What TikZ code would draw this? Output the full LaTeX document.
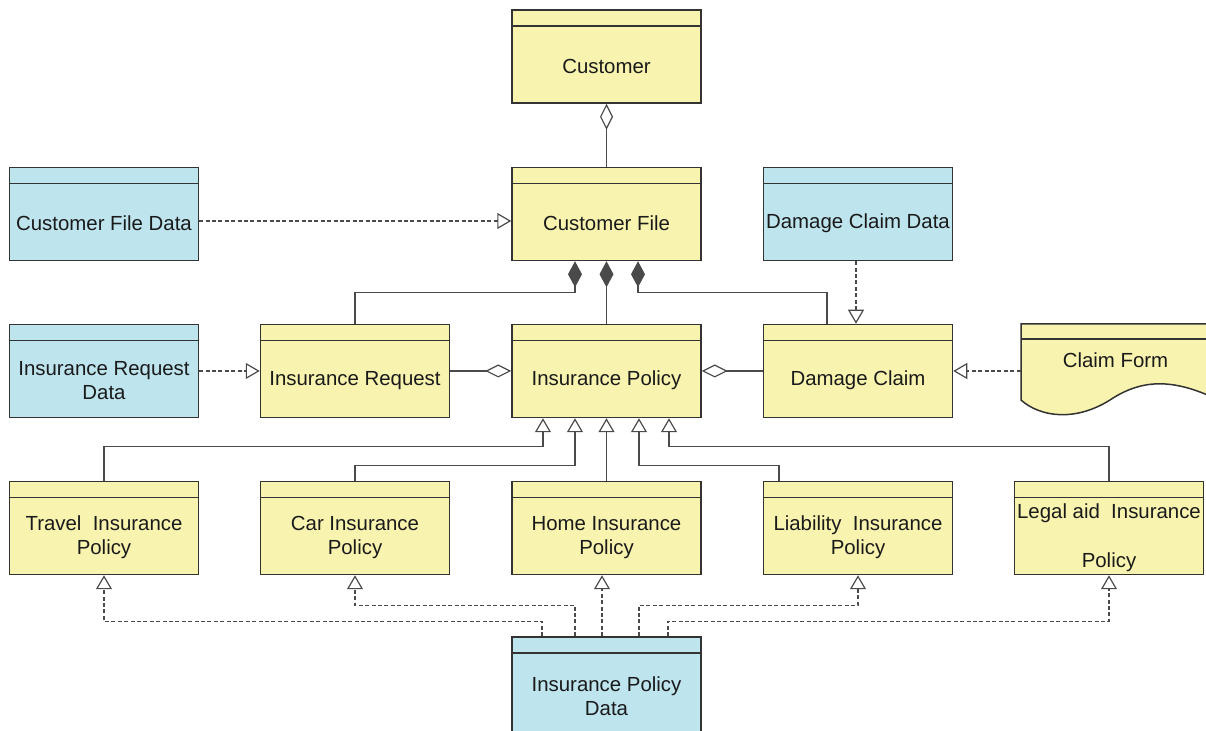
\documentclass[tikz,border=0pt]{standalone}
\usepackage{fontspec}
\setmainfont{Liberation Sans}
\usepackage{xcolor}
\usetikzlibrary{arrows.meta,calc}
\definecolor{clsyellow}{HTML}{F8F4B0}
\definecolor{clsblue}{HTML}{BEE4EE}
\definecolor{lineclr}{HTML}{333333}
\definecolor{connclr}{HTML}{4A4A4A}
\definecolor{textclr}{HTML}{1A1A1A}
\tikzset{%
	classbox/.style = {draw=lineclr, line width=0.75pt, fill=#1, minimum width=94.5pt, minimum height=46.5pt, inner sep=0pt,
		path picture={\draw[lineclr, line width=0.6pt] ([yshift=-8pt]path picture bounding box.north west) -- ([yshift=-8pt]path picture bounding box.north east);}},
	clstext/.style  = {align=center, yshift=-4.75pt, inner sep=0pt, font=\fontsize{10.2}{12.2}\selectfont, text=textclr},
	aggr/.style     = {connclr, line width=0.6pt, -{Diamond[open, length=13pt, width=6.5pt]}},
	comp/.style     = {connclr, line width=0.6pt, -{Diamond[length=13pt, width=7pt]}},
	gen/.style      = {connclr, line width=0.6pt, -{Triangle[open, length=7pt, width=8pt]}},
	real/.style     = {gen, dash pattern=on 2pt off 1.2pt},
}
\begin{document}
\begin{tikzpicture}[x=0.5pt, y=-0.5pt]
	\clip (0,0) rectangle (1206,731);
	
	\node[classbox=clsyellow, label={[clstext]center:Customer}] (customer) at (606.5,56.5) {};
	\node[classbox=clsblue, label={[clstext]center:Customer File Data}] (cfdata) at (104,214) {};
	\node[classbox=clsyellow, label={[clstext]center:Customer File}] (custfile) at (606.5,214) {};
	\node[classbox=clsblue, label={[clstext]center:Damage Claim Data}] (dcdata) at (858,214) {};
	\node[classbox=clsblue, label={[clstext]center:{Insurance Request\\Data}}] (irdata) at (104,371) {};
	\node[classbox=clsyellow, label={[clstext]center:Insurance Request}] (insreq) at (355,371) {};
	\node[classbox=clsyellow, label={[clstext]center:Insurance Policy}] (inspol) at (606.5,371) {};
	\node[classbox=clsyellow, label={[clstext]center:Damage Claim}] (dclaim) at (858,371) {};
	
	\draw[lineclr, line width=0.75pt, fill=clsyellow] (1021,400) -- (1021,324) -- (1212,324) -- (1212,397) .. controls (1170,378) and (1140,380) .. (1110,400) .. controls (1075,422) and (1040,417) .. (1021,400) -- cycle;
	\draw[lineclr, line width=0.6pt] (1021,339) -- (1212,339);
	\node[clstext, yshift=3.75pt, minimum width=94.5pt, minimum height=38pt] (claimform) at (1115.5,358) {Claim Form};
	
	\node[classbox=clsyellow, label={[clstext]center:{Travel\ \ Insurance\\Policy}}] (travel) at (104,528) {};
	\node[classbox=clsyellow, label={[clstext]center:{Car Insurance\\Policy}}] (car) at (355,528) {};
	\node[classbox=clsyellow, label={[clstext]center:{Home Insurance\\Policy}}] (home) at (606.5,528) {};
	\node[classbox=clsyellow, label={[clstext]center:{Liability\ \ Insurance\\Policy}}] (liab) at (858,528) {};
	\node[classbox=clsyellow, label={[clstext]center:{Legal aid\ \ Insurance\\[12.2pt]Policy}}] (legal) at (1109,528) {};
	\node[classbox=clsblue, minimum height=50pt, label={[clstext]center:{Insurance Policy\\Data}}] (ipdata) at (606.5,687) {};
	
	\draw[aggr] (custfile.north) -- (customer.south);
	\draw[real] ([yshift=-3.5pt]cfdata.east) -- ([yshift=-3.5pt]custfile.west);
	\draw[real] ([xshift=-1pt]dcdata.south) -- ([xshift=-1pt]dclaim.north);
	\draw[real] (irdata.east) -- (insreq.west);
	\draw[aggr] (insreq.east) -- (inspol.west);
	\draw[aggr] (dclaim.west) -- (inspol.east);
	\draw[real] (claimform.west |- dclaim.east) -- (dclaim.east);
	
	\draw[comp] (insreq.north) |- ($(custfile.south)+(-31.5,31)$) -- ($(custfile.south)+(-31.5,0)$);
	\draw[comp] (inspol.north) -- (custfile.south);
	\draw[comp] ($(dclaim.north)+(-31,0)$) |- ($(custfile.south)+(31.5,31)$) -- ($(custfile.south)+(31.5,0)$);
	
	\draw[gen] (travel.north) |- ($(inspol.south)+(-63.5,28)$) -- ($(inspol.south)+(-63.5,0)$);
	\draw[gen] (car.north) |- ($(inspol.south)+(-31.5,47)$) -- ($(inspol.south)+(-31.5,0)$);
	\draw[gen] (home.north) -- (inspol.south);
	\draw[gen] ($(liab.north)+(-79,0)$) |- ($(inspol.south)+(32.5,47)$) -- ($(inspol.south)+(32.5,0)$);
	\draw[gen] (legal.north) |- ($(inspol.south)+(62.5,28)$) -- ($(inspol.south)+(62.5,0)$);
	
	\draw[real] ($(ipdata.north)+(-64.5,0)$) -- ++(0,-15) -| (travel.south);
	\draw[real] ($(ipdata.north)+(-31.5,0)$) -- ++(0,-31) -| (car.south);
	\draw[real] ($(ipdata.north)+(-4.5,0)$) -- ($(home.south)+(-4.5,0)$);
	\draw[real] ($(ipdata.north)+(32.5,0)$) -- ++(0,-31) -| (liab.south);
	\draw[real] ($(ipdata.north)+(61.5,0)$) -- ++(0,-15) -| (legal.south);
\end{tikzpicture}
\end{document}
